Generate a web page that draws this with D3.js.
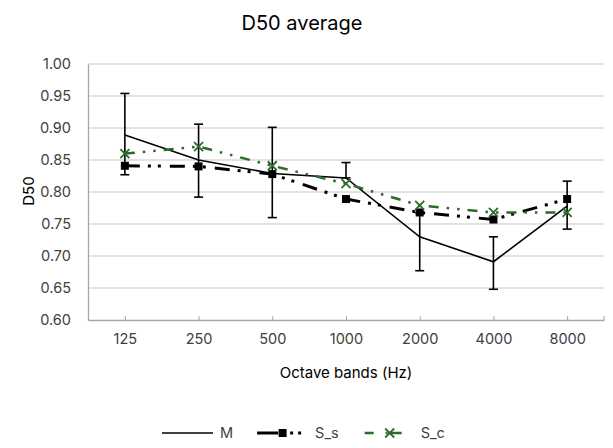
<!DOCTYPE html>
<html>
<head>
<meta charset="utf-8">
<script src="https://cdn.jsdelivr.net/npm/d3@7"></script>
<style>
  html, body { margin: 0; padding: 0; background: #fff; }
  svg { display: block; }
  text { font-family: Inter, "Open Sans", sans-serif; }
</style>
</head>
<body>
<svg id="chart" width="613" height="448"></svg>
<script>
// ---- data ----
const categories = ["125", "250", "500", "1000", "2000", "4000", "8000"];
const M   = [0.889, 0.850, 0.829, 0.822, 0.730, 0.691, 0.778];
const S_s = [0.841, 0.840, 0.828, 0.789, 0.768, 0.757, 0.789];
const S_c = [0.860, 0.871, 0.841, 0.813, 0.779, 0.768, 0.768];
const errHigh = [0.954, 0.906, 0.901, 0.846, 0.767, 0.730, 0.817];
const errLow  = [0.827, 0.792, 0.760, 0.822, 0.677, 0.648, 0.742];
const yTicks = [0.60, 0.65, 0.70, 0.75, 0.80, 0.85, 0.90, 0.95, 1.00];
const seriesNames = ["M", "S_s", "S_c"];

// ---- layout ----
const svg = d3.select("#chart");
const L = 88, R = 604, T = 64, B = 320;
const green = "#2b6b2b";
const x = d3.scalePoint().domain(categories).range([L, R]).padding(0.5);
const y = d3.scaleLinear().domain([0.60, 1.00]).range([B, T]);

// title
svg.append("text").attr("x", 302).attr("y", 30).attr("text-anchor", "middle")
  .attr("font-size", 20).attr("fill", "#000").text("D50 average");

// gridlines
svg.append("g").selectAll("line").data(yTicks.slice(1)).join("line")
  .attr("x1", L).attr("x2", R).attr("y1", d => y(d)).attr("y2", d => y(d))
  .attr("stroke", "#d9d9d9").attr("stroke-width", 1.3);

// y axis
const yAxis = svg.append("g").attr("transform", `translate(${L},0)`)
  .call(d3.axisLeft(y).tickValues(yTicks).tickFormat(d3.format(".2f")).tickSize(0).tickPadding(17));
yAxis.select(".domain").attr("stroke", "#a6a6a6").attr("stroke-width", 1.3);
yAxis.selectAll("text").attr("font-size", 14.5).attr("fill", "#404040").attr("font-family", "Inter, sans-serif");

// x axis
const xAxis = svg.append("g").attr("transform", `translate(0,${B})`)
  .call(d3.axisBottom(x).tickSizeInner(-4).tickSizeOuter(0).tickPadding(14));
xAxis.select(".domain").attr("stroke", "#a6a6a6").attr("stroke-width", 1.3);
xAxis.selectAll(".tick line").attr("stroke", "#a6a6a6");
xAxis.selectAll("text").attr("font-size", 14.5).attr("fill", "#404040").attr("font-family", "Inter, sans-serif");
svg.append("line").attr("x1", R).attr("x2", R).attr("y1", B - 4).attr("y2", B)
  .attr("stroke", "#a6a6a6");

// axis titles
svg.append("text").attr("x", 346).attr("y", 378).attr("text-anchor", "middle")
  .attr("font-size", 15).attr("fill", "#000").text("Octave bands (Hz)");
svg.append("text").attr("transform", "translate(34,191) rotate(-90)").attr("text-anchor", "middle")
  .attr("font-size", 15).attr("fill", "#000").text("D50");

const line = d3.line().x((d, i) => x(categories[i])).y(d => y(d));

// M series with error bars
svg.append("path").datum(M).attr("d", line).attr("fill", "none")
  .attr("stroke", "#000").attr("stroke-width", 1.6);
const eb = svg.append("g").attr("stroke", "#000").attr("stroke-width", 1.6);
categories.forEach((c, i) => {
  const cx = x(c);
  eb.append("line").attr("x1", cx).attr("x2", cx).attr("y1", y(errHigh[i])).attr("y2", y(errLow[i]));
  eb.append("line").attr("x1", cx - 4.5).attr("x2", cx + 4.5).attr("y1", y(errHigh[i])).attr("y2", y(errHigh[i]));
  eb.append("line").attr("x1", cx - 4.5).attr("x2", cx + 4.5).attr("y1", y(errLow[i])).attr("y2", y(errLow[i]));
});

// S_s series
const ssDash = "15 8 3 7 3 9";
svg.append("path").datum(S_s).attr("d", line).attr("fill", "none")
  .attr("stroke", "#000").attr("stroke-width", 3).attr("stroke-dasharray", ssDash);
svg.append("g").selectAll("rect").data(S_s).join("rect")
  .attr("x", (d, i) => x(categories[i]) - 4).attr("y", d => y(d) - 4)
  .attr("width", 8).attr("height", 8).attr("fill", "#000");

// S_c series
const scDash = "10 8 2.5 8 2.5 8";
svg.append("path").datum(S_c).attr("d", line).attr("fill", "none")
  .attr("stroke", green).attr("stroke-width", 2.5).attr("stroke-dasharray", scDash);
const xMark = (g, cx, cy) => {
  g.append("path").attr("d", `M${cx-4.5},${cy-4.5}L${cx+4.5},${cy+4.5}M${cx-4.5},${cy+4.5}L${cx+4.5},${cy-4.5}`)
    .attr("stroke", green).attr("stroke-width", 1.8).attr("fill", "none");
};
const scm = svg.append("g");
S_c.forEach((d, i) => xMark(scm, x(categories[i]), y(d)));

// legend
const ly = 433;
const leg = svg.append("g");
let lx = 162;
seriesNames.forEach((name, k) => {
  const g = leg.append("g");
  const ln = g.append("line").attr("x1", lx).attr("x2", lx + 51).attr("y1", ly).attr("y2", ly);
  if (k === 0) ln.attr("stroke", "#000").attr("stroke-width", 1.6);
  if (k === 1) {
    ln.attr("stroke", "#000").attr("stroke-width", 3).attr("stroke-dasharray", "21 12 3 5 3 20");
    g.append("rect").attr("x", lx + 21.5).attr("y", ly - 4).attr("width", 8).attr("height", 8).attr("fill", "#000");
  }
  if (k === 2) {
    ln.attr("stroke", green).attr("stroke-width", 2.5).attr("stroke-dasharray", "0 2 9 12 2 3 11 20");
    xMark(g, lx + 27, ly);
  }
  const t = g.append("text").attr("x", lx + 58).attr("y", ly + 5).attr("font-size", 14.5)
    .attr("fill", "#404040").text(name);
  lx += 58 + t.node().getComputedTextLength() + 24;
});
</script>
</body>
</html>
